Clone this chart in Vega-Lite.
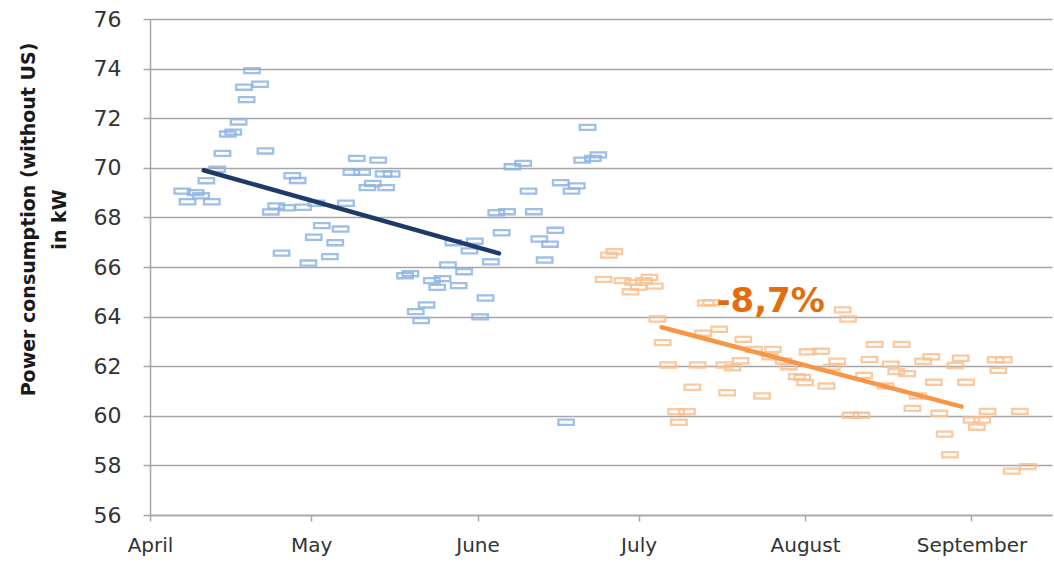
{
  "$schema": "https://vega.github.io/schema/vega-lite/v6.json",
  "width": 902,
  "height": 496,
  "autosize": "none",
  "padding": {"left": 150, "top": 19, "right": 2, "bottom": 52},
  "background": "white",
  "config": {"view": {"stroke": null}, "font": "DejaVu Sans"},
  "datasets": {
    "points": [
      {"date": "2019-04-07", "value": 69.06, "period": "before"},
      {"date": "2019-04-08", "value": 68.63, "period": "before"},
      {"date": "2019-04-09T12:00Z", "value": 69.0, "period": "before"},
      {"date": "2019-04-10T12:00Z", "value": 68.87, "period": "before"},
      {"date": "2019-04-11T12:00Z", "value": 69.48, "period": "before"},
      {"date": "2019-04-12T12:00Z", "value": 68.63, "period": "before"},
      {"date": "2019-04-13T12:00Z", "value": 69.94, "period": "before"},
      {"date": "2019-04-14T12:00Z", "value": 70.58, "period": "before"},
      {"date": "2019-04-15T12:00Z", "value": 71.36, "period": "before"},
      {"date": "2019-04-16T12:00Z", "value": 71.44, "period": "before"},
      {"date": "2019-04-17T12:00Z", "value": 71.85, "period": "before"},
      {"date": "2019-04-18T12:00Z", "value": 73.25, "period": "before"},
      {"date": "2019-04-19", "value": 72.75, "period": "before"},
      {"date": "2019-04-20", "value": 73.92, "period": "before"},
      {"date": "2019-04-21T12:00Z", "value": 73.37, "period": "before"},
      {"date": "2019-04-22T12:00Z", "value": 70.68, "period": "before"},
      {"date": "2019-04-23T12:00Z", "value": 68.22, "period": "before"},
      {"date": "2019-04-24T12:00Z", "value": 68.46, "period": "before"},
      {"date": "2019-04-25T12:00Z", "value": 66.56, "period": "before"},
      {"date": "2019-04-26T12:00Z", "value": 68.39, "period": "before"},
      {"date": "2019-04-27T12:00Z", "value": 69.68, "period": "before"},
      {"date": "2019-04-28T12:00Z", "value": 69.49, "period": "before"},
      {"date": "2019-04-29T12:00Z", "value": 68.41, "period": "before"},
      {"date": "2019-04-30T12:00Z", "value": 66.16, "period": "before"},
      {"date": "2019-05-01T12:00Z", "value": 67.2, "period": "before"},
      {"date": "2019-05-02", "value": 68.57, "period": "before"},
      {"date": "2019-05-03", "value": 67.67, "period": "before"},
      {"date": "2019-05-04T12:00Z", "value": 66.42, "period": "before"},
      {"date": "2019-05-05T12:00Z", "value": 66.98, "period": "before"},
      {"date": "2019-05-06T12:00Z", "value": 67.53, "period": "before"},
      {"date": "2019-05-07T12:00Z", "value": 68.57, "period": "before"},
      {"date": "2019-05-08T12:00Z", "value": 69.82, "period": "before"},
      {"date": "2019-05-09T12:00Z", "value": 70.38, "period": "before"},
      {"date": "2019-05-10T12:00Z", "value": 69.82, "period": "before"},
      {"date": "2019-05-11T12:00Z", "value": 69.2, "period": "before"},
      {"date": "2019-05-12T12:00Z", "value": 69.37, "period": "before"},
      {"date": "2019-05-13T12:00Z", "value": 70.31, "period": "before"},
      {"date": "2019-05-14T12:00Z", "value": 69.75, "period": "before"},
      {"date": "2019-05-15", "value": 69.2, "period": "before"},
      {"date": "2019-05-16", "value": 69.75, "period": "before"},
      {"date": "2019-05-18T12:00Z", "value": 65.65, "period": "before"},
      {"date": "2019-05-19T12:00Z", "value": 65.73, "period": "before"},
      {"date": "2019-05-20T12:00Z", "value": 64.2, "period": "before"},
      {"date": "2019-05-21T12:00Z", "value": 63.84, "period": "before"},
      {"date": "2019-05-22T12:00Z", "value": 64.47, "period": "before"},
      {"date": "2019-05-23T12:00Z", "value": 65.45, "period": "before"},
      {"date": "2019-05-24T12:00Z", "value": 65.18, "period": "before"},
      {"date": "2019-05-25T12:00Z", "value": 65.53, "period": "before"},
      {"date": "2019-05-26T12:00Z", "value": 66.08, "period": "before"},
      {"date": "2019-05-27T12:00Z", "value": 66.98, "period": "before"},
      {"date": "2019-05-28T12:00Z", "value": 65.25, "period": "before"},
      {"date": "2019-05-29T12:00Z", "value": 65.81, "period": "before"},
      {"date": "2019-05-30T12:00Z", "value": 66.65, "period": "before"},
      {"date": "2019-05-31T12:00Z", "value": 67.04, "period": "before"},
      {"date": "2019-06-01T12:00Z", "value": 63.99, "period": "before"},
      {"date": "2019-06-02T12:00Z", "value": 64.75, "period": "before"},
      {"date": "2019-06-03T12:00Z", "value": 66.21, "period": "before"},
      {"date": "2019-06-04T12:00Z", "value": 68.19, "period": "before"},
      {"date": "2019-06-05T12:00Z", "value": 67.38, "period": "before"},
      {"date": "2019-06-06T12:00Z", "value": 68.23, "period": "before"},
      {"date": "2019-06-07T12:00Z", "value": 70.04, "period": "before"},
      {"date": "2019-06-09T12:00Z", "value": 70.18, "period": "before"},
      {"date": "2019-06-10T12:00Z", "value": 69.06, "period": "before"},
      {"date": "2019-06-11T12:00Z", "value": 68.23, "period": "before"},
      {"date": "2019-06-12T12:00Z", "value": 67.13, "period": "before"},
      {"date": "2019-06-13T12:00Z", "value": 66.28, "period": "before"},
      {"date": "2019-06-14T12:00Z", "value": 66.92, "period": "before"},
      {"date": "2019-06-15T12:00Z", "value": 67.48, "period": "before"},
      {"date": "2019-06-16T12:00Z", "value": 69.4, "period": "before"},
      {"date": "2019-06-17T12:00Z", "value": 59.74, "period": "before"},
      {"date": "2019-06-18T12:00Z", "value": 69.06, "period": "before"},
      {"date": "2019-06-19T12:00Z", "value": 69.27, "period": "before"},
      {"date": "2019-06-20T12:00Z", "value": 70.31, "period": "before"},
      {"date": "2019-06-21T12:00Z", "value": 71.63, "period": "before"},
      {"date": "2019-06-22T12:00Z", "value": 70.38, "period": "before"},
      {"date": "2019-06-23T12:00Z", "value": 70.52, "period": "before"},
      {"date": "2019-06-24T12:00Z", "value": 65.5, "period": "after"},
      {"date": "2019-06-25T12:00Z", "value": 66.48, "period": "after"},
      {"date": "2019-06-26T12:00Z", "value": 66.62, "period": "after"},
      {"date": "2019-06-28", "value": 65.45, "period": "after"},
      {"date": "2019-06-29T12:00Z", "value": 65.0, "period": "after"},
      {"date": "2019-06-30", "value": 65.38, "period": "after"},
      {"date": "2019-07-01", "value": 65.18, "period": "after"},
      {"date": "2019-07-02", "value": 65.45, "period": "after"},
      {"date": "2019-07-03", "value": 65.58, "period": "after"},
      {"date": "2019-07-04", "value": 65.23, "period": "after"},
      {"date": "2019-07-04T12:00Z", "value": 63.9, "period": "after"},
      {"date": "2019-07-05T12:00Z", "value": 62.95, "period": "after"},
      {"date": "2019-07-06T12:00Z", "value": 62.05, "period": "after"},
      {"date": "2019-07-08", "value": 60.17, "period": "after"},
      {"date": "2019-07-08T12:00Z", "value": 59.74, "period": "after"},
      {"date": "2019-07-10", "value": 60.17, "period": "after"},
      {"date": "2019-07-11", "value": 61.15, "period": "after"},
      {"date": "2019-07-12", "value": 62.05, "period": "after"},
      {"date": "2019-07-13", "value": 63.33, "period": "after"},
      {"date": "2019-07-13T12:00Z", "value": 64.55, "period": "after"},
      {"date": "2019-07-14T12:00Z", "value": 64.56, "period": "after"},
      {"date": "2019-07-16", "value": 63.49, "period": "after"},
      {"date": "2019-07-17", "value": 62.05, "period": "after"},
      {"date": "2019-07-17T12:00Z", "value": 60.93, "period": "after"},
      {"date": "2019-07-18T12:00Z", "value": 61.94, "period": "after"},
      {"date": "2019-07-20", "value": 62.22, "period": "after"},
      {"date": "2019-07-20T12:00Z", "value": 63.08, "period": "after"},
      {"date": "2019-07-22T12:00Z", "value": 62.68, "period": "after"},
      {"date": "2019-07-24", "value": 60.8, "period": "after"},
      {"date": "2019-07-25T12:00Z", "value": 62.38, "period": "after"},
      {"date": "2019-07-26", "value": 62.68, "period": "after"},
      {"date": "2019-07-28", "value": 62.21, "period": "after"},
      {"date": "2019-07-29", "value": 61.98, "period": "after"},
      {"date": "2019-07-30T12:00Z", "value": 61.58, "period": "after"},
      {"date": "2019-07-31T12:00Z", "value": 61.55, "period": "after"},
      {"date": "2019-08-01", "value": 61.34, "period": "after"},
      {"date": "2019-08-01T12:00Z", "value": 62.58, "period": "after"},
      {"date": "2019-08-04", "value": 62.6, "period": "after"},
      {"date": "2019-08-05", "value": 61.2, "period": "after"},
      {"date": "2019-08-06", "value": 61.96, "period": "after"},
      {"date": "2019-08-07", "value": 62.2, "period": "after"},
      {"date": "2019-08-08", "value": 64.27, "period": "after"},
      {"date": "2019-08-09", "value": 63.9, "period": "after"},
      {"date": "2019-08-09T12:00Z", "value": 60.02, "period": "after"},
      {"date": "2019-08-11T12:00Z", "value": 60.02, "period": "after"},
      {"date": "2019-08-12", "value": 61.63, "period": "after"},
      {"date": "2019-08-13", "value": 62.27, "period": "after"},
      {"date": "2019-08-14", "value": 62.88, "period": "after"},
      {"date": "2019-08-16", "value": 61.2, "period": "after"},
      {"date": "2019-08-17", "value": 62.08, "period": "after"},
      {"date": "2019-08-18", "value": 61.78, "period": "after"},
      {"date": "2019-08-19", "value": 62.88, "period": "after"},
      {"date": "2019-08-20", "value": 61.7, "period": "after"},
      {"date": "2019-08-21", "value": 60.3, "period": "after"},
      {"date": "2019-08-22", "value": 60.8, "period": "after"},
      {"date": "2019-08-23", "value": 62.2, "period": "after"},
      {"date": "2019-08-24T12:00Z", "value": 62.38, "period": "after"},
      {"date": "2019-08-25", "value": 61.35, "period": "after"},
      {"date": "2019-08-26", "value": 60.1, "period": "after"},
      {"date": "2019-08-27", "value": 59.26, "period": "after"},
      {"date": "2019-08-28", "value": 58.43, "period": "after"},
      {"date": "2019-08-29", "value": 62.03, "period": "after"},
      {"date": "2019-08-30", "value": 62.32, "period": "after"},
      {"date": "2019-08-31", "value": 61.35, "period": "after"},
      {"date": "2019-09-01", "value": 59.83, "period": "after"},
      {"date": "2019-09-02", "value": 59.54, "period": "after"},
      {"date": "2019-09-03", "value": 59.83, "period": "after"},
      {"date": "2019-09-04", "value": 60.18, "period": "after"},
      {"date": "2019-09-05T12:00Z", "value": 62.26, "period": "after"},
      {"date": "2019-09-06", "value": 61.83, "period": "after"},
      {"date": "2019-09-07", "value": 62.26, "period": "after"},
      {"date": "2019-09-08T12:00Z", "value": 57.77, "period": "after"},
      {"date": "2019-09-10", "value": 60.18, "period": "after"},
      {"date": "2019-09-11T12:00Z", "value": 57.95, "period": "after"}
    ],
    "trend": [
      {"date": "2019-04-11", "value": 69.9, "series": "before"},
      {"date": "2019-06-05", "value": 66.55, "series": "before"},
      {"date": "2019-07-05T07:00Z", "value": 63.57, "series": "after"},
      {"date": "2019-08-30T04:00Z", "value": 60.37, "series": "after"}
    ],
    "notes": [
      {"date": "2019-07-15T12:00Z", "value": 64.19, "label": "-8,7%"}
    ]
  },
  "layer": [
    {
      "data": {"name": "points"},
      "mark": {"type": "point", "shape": "M-1,-0.33H1V0.33H-1Z", "filled": false, "size": 240, "strokeWidth": 2.3, "opacity": 0.85},
      "encoding": {
        "x": {
          "field": "date", "type": "temporal", "title": null,
          "scale": {"type": "utc", "domain": [{"year": 2019, "month": 4, "date": 1, "utc": true}, {"year": 2019, "month": 9, "date": 16, "utc": true}]},
          "axis": {
            "values": [
              {"year": 2019, "month": 4, "date": 1, "utc": true},
              {"year": 2019, "month": 5, "date": 1, "utc": true},
              {"year": 2019, "month": 6, "date": 1, "utc": true},
              {"year": 2019, "month": 7, "date": 1, "utc": true},
              {"year": 2019, "month": 8, "date": 1, "utc": true},
              {"year": 2019, "month": 9, "date": 1, "utc": true}
            ],
            "format": "%B",
            "grid": false,
            "domain": true, "domainColor": "#A6A6A6", "domainWidth": 1.5,
            "ticks": true, "tickColor": "#A6A6A6", "tickWidth": 1.5, "tickSize": 6,
            "labelFont": "DejaVu Sans", "labelFontSize": 20, "labelColor": "#333333",
            "labelPadding": 14, "labelFlush": false, "labelOverlap": false, "labelAlign": "center"
          }
        },
        "y": {
          "field": "value", "type": "quantitative",
          "scale": {"domain": [56, 76], "nice": false, "zero": false},
          "axis": {
            "values": [56, 58, 60, 62, 64, 66, 68, 70, 72, 74, 76],
            "title": ["Power consumption (without  US)", "in kW"],
            "titleFont": "DejaVu Sans", "titleFontSize": 19, "titleFontWeight": "bold", "titleColor": "#1A1A1A",
            "titleX": -122, "titleY": 200, "titleAlign": "center", "titleBaseline": "middle", "titleLineHeight": 31, "titleAngle": -90,
            "grid": true, "gridColor": "#A6A6A6", "gridWidth": 1.5,
            "domain": true, "domainColor": "#A6A6A6", "domainWidth": 1.5,
            "ticks": true, "tickColor": "#A6A6A6", "tickWidth": 1.5, "tickSize": 7,
            "labelFont": "DejaVu Sans", "labelFontSize": 22, "labelColor": "#333333", "labelPadding": 22
          }
        },
        "stroke": {"field": "period", "type": "nominal", "scale": {"domain": ["before", "after"], "range": ["#8EB4E3", "#FAC090"]}, "legend": null}
      }
    },
    {
      "data": {"name": "trend"},
      "mark": {"type": "line", "strokeWidth": 4.5, "strokeCap": "round"},
      "encoding": {
        "x": {"field": "date", "type": "temporal"},
        "y": {"field": "value", "type": "quantitative"},
        "color": {"field": "series", "type": "nominal", "scale": {"domain": ["before", "after"], "range": ["#1F3A68", "#F79646"]}, "legend": null}
      }
    },
    {
      "data": {"name": "notes"},
      "mark": {"type": "text", "align": "left", "baseline": "alphabetic", "font": "DejaVu Sans", "fontSize": 34, "fontWeight": "bold", "color": "#E46C0A"},
      "encoding": {
        "x": {"field": "date", "type": "temporal"},
        "y": {"field": "value", "type": "quantitative"},
        "text": {"field": "label", "type": "nominal"}
      }
    }
  ],
  "resolve": {"scale": {"color": "independent", "stroke": "independent"}}
}
